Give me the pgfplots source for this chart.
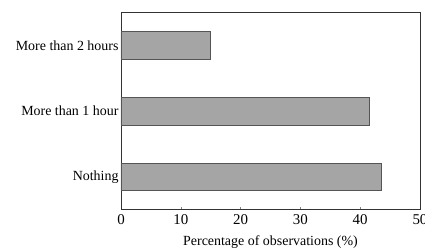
\documentclass[border=0pt]{standalone}
\usepackage{pgfplots}
\pgfplotsset{compat=1.18}
\usepackage{fontspec}
\setmainfont{Liberation Serif}
\definecolor{barfill}{RGB}{165,165,165}
\definecolor{bardraw}{RGB}{85,85,85}
\begin{document}
\begin{tikzpicture}
\begin{axis}[
  name=ax,
  scale only axis,
  width=299bp, height=197bp,
  xbar,
  xmin=0, xmax=50,
  ymin=-0.5, ymax=2.5,
  bar width=27.5bp,
  xtick={0,10,20,30,40,50},
  xtick pos=bottom,
  tick align=inside,
  major tick length=3bp,
  ytick={0,1,2},
  yticklabels={Nothing,More than 1 hour,More than 2 hours},
  y tick style={draw=none},
  ytick pos=left,
  yticklabel style={xshift=1bp, font=\fontsize{14}{16}\selectfont},
  /pgf/number format/assume math mode=true,
  xticklabel style={font=\fontsize{15}{16}\selectfont, yshift=-1bp},
  xlabel={Percentage of observations (\%)},
  xlabel style={yshift=-5bp, font=\fontsize{14}{16}\selectfont},
  axis line style={draw=black!80, line width=0.8bp},
]
\addplot[fill=barfill, draw=bardraw, line width=0.8bp] coordinates {(43.5,0) (41.6,1) (15.0,2)};
\end{axis}
\pgfresetboundingbox
\path[use as bounding box] ([xshift=-121bp,yshift=12.7bp]ax.north west) rectangle ([xshift=304bp,yshift=-239.3bp]ax.north west);
\end{tikzpicture}
\end{document}
